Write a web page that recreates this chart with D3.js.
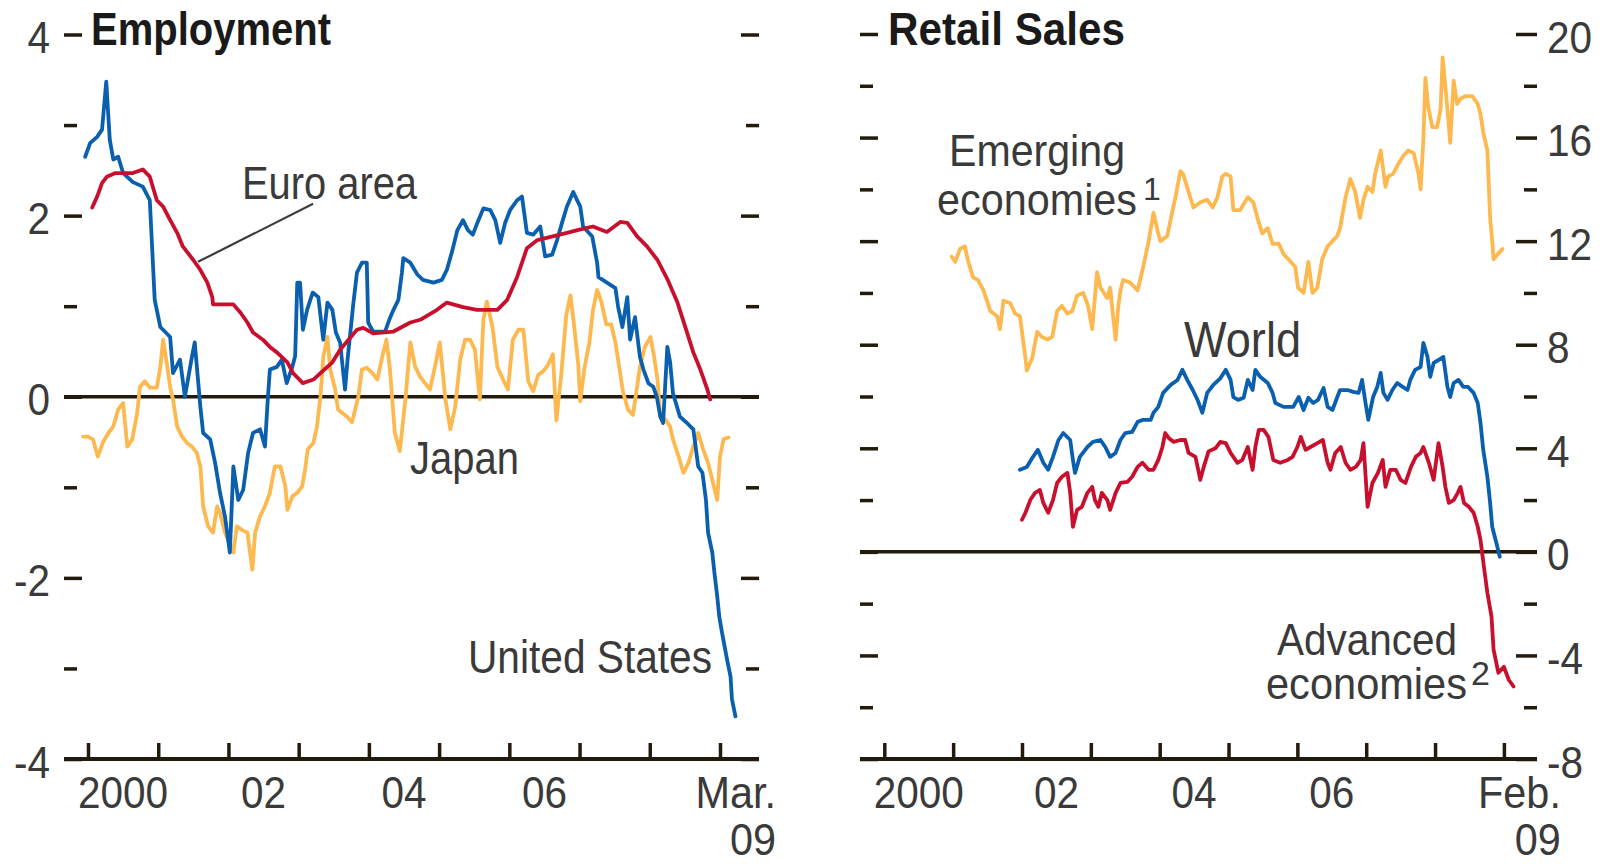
<!DOCTYPE html>
<html><head><meta charset="utf-8">
<script src="https://cdn.jsdelivr.net/npm/d3@7"></script>
<style>
html,body{margin:0;padding:0;background:#fff;}
svg{display:block;}
text{font-family:"Liberation Sans", Arial, sans-serif;}
</style></head><body>
<svg id="chart" width="1608" height="864"></svg>
<script>
// ---------------- DATA (decimal year, value) ----------------
const usEmployment = [[1999.96,2.65],[2000.03,2.80],[2000.13,2.87],[2000.20,2.95],[2000.26,3.48],[2000.31,2.84],[2000.36,2.62],[2000.43,2.65],[2000.50,2.47],[2000.64,2.37],[2000.78,2.32],[2000.88,2.17],[2000.95,1.07],[2001.03,0.77],[2001.17,0.66],[2001.21,0.26],[2001.31,0.41],[2001.38,0.00],[2001.48,0.44],[2001.52,0.60],[2001.60,-0.11],[2001.64,-0.40],[2001.74,-0.47],[2001.81,-0.73],[2001.88,-1.06],[2001.95,-1.32],[2002.02,-1.72],[2002.07,-0.77],[2002.14,-1.14],[2002.21,-1.03],[2002.28,-0.62],[2002.35,-0.40],[2002.45,-0.36],[2002.52,-0.55],[2002.56,-0.03],[2002.59,0.30],[2002.69,0.33],[2002.76,0.41],[2002.83,0.15],[2002.91,0.33],[2002.95,0.45],[2002.98,1.26],[2003.02,1.26],[2003.06,0.74],[2003.12,0.96],[2003.20,1.15],[2003.28,1.10],[2003.35,0.63],[2003.41,1.04],[2003.48,0.96],[2003.53,0.71],[2003.59,0.60],[2003.66,0.08],[2003.70,0.44],[2003.78,1.04],[2003.83,1.37],[2003.90,1.48],[2003.97,1.48],[2003.99,0.82],[2004.06,0.72],[2004.23,0.72],[2004.29,0.85],[2004.35,0.96],[2004.42,1.07],[2004.47,1.37],[2004.49,1.53],[2004.59,1.48],[2004.69,1.35],[2004.77,1.29],[2004.92,1.26],[2005.04,1.29],[2005.11,1.40],[2005.19,1.62],[2005.26,1.84],[2005.34,1.95],[2005.41,1.84],[2005.48,1.79],[2005.56,1.95],[2005.63,2.08],[2005.73,2.06],[2005.80,1.95],[2005.87,1.70],[2005.94,1.92],[2006.01,2.06],[2006.11,2.17],[2006.18,2.21],[2006.25,1.81],[2006.34,1.79],[2006.44,1.88],[2006.51,1.55],[2006.61,1.57],[2006.68,1.73],[2006.75,1.92],[2006.82,2.10],[2006.91,2.26],[2007.01,2.10],[2007.05,1.88],[2007.18,1.77],[2007.25,1.48],[2007.27,1.32],[2007.39,1.26],[2007.51,1.20],[2007.55,0.99],[2007.61,0.77],[2007.68,1.10],[2007.72,0.63],[2007.79,0.88],[2007.86,0.44],[2007.91,0.30],[2007.98,0.15],[2008.05,0.11],[2008.10,0.00],[2008.15,-0.22],[2008.19,-0.29],[2008.25,0.55],[2008.29,0.38],[2008.33,0.04],[2008.43,-0.22],[2008.53,-0.29],[2008.62,-0.36],[2008.69,-0.77],[2008.75,-0.84],[2008.80,-1.14],[2008.83,-1.50],[2008.89,-1.72],[2008.92,-1.94],[2008.96,-2.20],[2008.99,-2.43],[2009.03,-2.61],[2009.10,-2.90],[2009.15,-3.09],[2009.17,-3.34],[2009.22,-3.53]];

const euroEmployment = [[2000.06,2.09],[2000.13,2.21],[2000.20,2.36],[2000.27,2.43],[2000.39,2.47],[2000.64,2.47],[2000.78,2.51],[2000.88,2.43],[2000.98,2.17],[2001.07,2.10],[2001.17,1.95],[2001.27,1.81],[2001.35,1.66],[2001.50,1.51],[2001.60,1.40],[2001.70,1.26],[2001.77,1.10],[2001.78,1.02],[2001.98,1.02],[2002.07,1.02],[2002.17,0.93],[2002.27,0.82],[2002.35,0.71],[2002.49,0.63],[2002.59,0.55],[2002.69,0.49],[2002.84,0.38],[2002.92,0.26],[2003.06,0.15],[2003.21,0.19],[2003.31,0.26],[2003.48,0.38],[2003.59,0.52],[2003.83,0.74],[2003.92,0.76],[2004.06,0.70],[2004.35,0.72],[2004.59,0.82],[2004.73,0.85],[2004.97,0.96],[2005.11,1.04],[2005.34,0.99],[2005.54,0.96],[2005.83,0.96],[2005.97,1.07],[2006.11,1.32],[2006.25,1.64],[2006.40,1.73],[2006.82,1.81],[2006.97,1.84],[2007.19,1.88],[2007.39,1.82],[2007.58,1.93],[2007.68,1.92],[2007.82,1.77],[2007.96,1.66],[2008.11,1.51],[2008.25,1.30],[2008.39,1.05],[2008.53,0.71],[2008.62,0.49],[2008.72,0.30],[2008.82,0.08],[2008.86,-0.03]];

const japanEmployment = [[1999.93,-0.44],[2000.00,-0.44],[2000.07,-0.47],[2000.14,-0.66],[2000.21,-0.51],[2000.29,-0.40],[2000.36,-0.33],[2000.43,-0.14],[2000.50,-0.07],[2000.56,-0.55],[2000.63,-0.47],[2000.70,-0.18],[2000.74,0.11],[2000.81,0.17],[2000.88,0.10],[2000.98,0.10],[2001.03,0.33],[2001.07,0.63],[2001.13,0.33],[2001.17,0.11],[2001.21,-0.03],[2001.27,-0.33],[2001.34,-0.44],[2001.41,-0.51],[2001.48,-0.55],[2001.55,-0.62],[2001.60,-0.77],[2001.64,-1.21],[2001.71,-1.43],[2001.78,-1.50],[2001.84,-1.21],[2001.88,-1.28],[2001.95,-1.50],[2002.07,-1.72],[2002.12,-1.43],[2002.19,-1.47],[2002.27,-1.50],[2002.34,-1.91],[2002.38,-1.50],[2002.45,-1.32],[2002.52,-1.21],[2002.59,-1.06],[2002.66,-0.77],[2002.74,-0.77],[2002.81,-0.99],[2002.84,-1.25],[2002.91,-1.10],[2002.98,-1.06],[2003.05,-0.99],[2003.09,-0.81],[2003.13,-0.58],[2003.21,-0.51],[2003.26,-0.33],[2003.31,0.00],[2003.35,0.44],[2003.41,0.66],[2003.45,0.30],[2003.52,0.08],[2003.56,-0.14],[2003.69,-0.22],[2003.76,-0.28],[2003.85,0.00],[2003.90,0.30],[2003.97,0.32],[2004.05,0.26],[2004.12,0.19],[2004.19,0.44],[2004.25,0.63],[2004.30,0.30],[2004.37,-0.40],[2004.44,-0.60],[2004.52,-0.03],[2004.59,0.60],[2004.66,0.33],[2004.73,0.22],[2004.80,0.15],[2004.87,0.08],[2004.94,0.33],[2005.01,0.60],[2005.09,-0.03],[2005.16,-0.36],[2005.23,-0.11],[2005.30,0.41],[2005.37,0.63],[2005.44,0.63],[2005.51,0.52],[2005.58,-0.03],[2005.63,0.85],[2005.68,1.05],[2005.76,0.77],[2005.83,0.33],[2005.91,0.19],[2005.98,0.08],[2006.05,0.63],[2006.13,0.74],[2006.20,0.74],[2006.27,0.17],[2006.34,0.06],[2006.41,0.24],[2006.48,0.28],[2006.55,0.35],[2006.62,0.47],[2006.67,-0.26],[2006.74,0.25],[2006.81,0.90],[2006.87,1.12],[2006.92,0.80],[2006.98,0.37],[2007.01,-0.05],[2007.07,0.32],[2007.14,0.60],[2007.19,0.95],[2007.25,1.18],[2007.31,1.05],[2007.38,0.80],[2007.45,0.80],[2007.51,0.60],[2007.56,0.35],[2007.62,0.05],[2007.69,-0.14],[2007.76,-0.20],[2007.81,0.06],[2007.86,0.33],[2007.93,0.55],[2008.01,0.66],[2008.06,0.45],[2008.11,0.19],[2008.15,-0.22],[2008.22,-0.25],[2008.29,-0.33],[2008.33,-0.47],[2008.41,-0.66],[2008.48,-0.84],[2008.55,-0.73],[2008.62,-0.55],[2008.69,-0.40],[2008.76,-0.58],[2008.83,-0.73],[2008.90,-0.95],[2008.96,-1.14],[2009.00,-0.66],[2009.05,-0.47],[2009.12,-0.45]];

const emergingRetail = [[2000.98,11.4],[2001.03,11.2],[2001.10,11.7],[2001.17,11.8],[2001.22,11.2],[2001.29,10.6],[2001.36,10.5],[2001.44,10.1],[2001.49,9.7],[2001.54,9.3],[2001.64,9.1],[2001.68,8.6],[2001.73,9.7],[2001.83,9.6],[2001.90,9.2],[2001.97,9.1],[2002.05,7.5],[2002.07,7.0],[2002.15,7.5],[2002.22,8.5],[2002.29,8.3],[2002.37,8.2],[2002.44,8.3],[2002.51,9.3],[2002.58,9.5],[2002.66,9.2],[2002.73,9.3],[2002.80,9.9],[2002.89,10.0],[2002.96,9.5],[2003.02,8.6],[2003.09,10.8],[2003.14,10.2],[2003.24,9.8],[2003.28,10.2],[2003.36,8.2],[2003.40,9.5],[2003.43,10.1],[2003.47,10.5],[2003.57,10.4],[2003.68,10.1],[2003.76,11.0],[2003.84,12.0],[2003.91,13.1],[2003.97,12.4],[2004.01,12.0],[2004.11,12.2],[2004.18,13.1],[2004.23,13.7],[2004.30,14.7],[2004.34,14.6],[2004.42,13.9],[2004.49,13.3],[2004.59,13.5],[2004.69,13.6],[2004.77,13.3],[2004.84,13.7],[2004.91,14.5],[2004.96,14.6],[2005.03,14.5],[2005.07,13.2],[2005.17,13.2],[2005.28,13.7],[2005.36,13.5],[2005.42,12.9],[2005.49,12.3],[2005.57,12.5],[2005.64,11.9],[2005.73,11.9],[2005.80,11.5],[2005.87,11.3],[2005.97,11.0],[2006.01,10.2],[2006.09,10.0],[2006.16,11.2],[2006.22,10.0],[2006.29,10.2],[2006.36,11.3],[2006.44,11.8],[2006.51,12.0],[2006.58,12.2],[2006.62,12.5],[2006.70,13.7],[2006.77,14.4],[2006.84,13.9],[2006.91,12.9],[2006.96,13.6],[2007.02,14.1],[2007.09,13.9],[2007.13,14.6],[2007.21,15.5],[2007.28,14.1],[2007.32,14.5],[2007.39,14.6],[2007.47,15.0],[2007.54,15.3],[2007.61,15.5],[2007.69,15.4],[2007.76,14.6],[2007.79,14.0],[2007.83,15.9],[2007.86,18.3],[2007.90,17.2],[2007.96,16.4],[2008.03,16.4],[2008.08,17.1],[2008.11,19.1],[2008.18,17.1],[2008.22,15.8],[2008.27,18.2],[2008.32,17.3],[2008.37,17.5],[2008.44,17.6],[2008.54,17.6],[2008.62,17.3],[2008.66,16.9],[2008.70,16.2],[2008.76,15.5],[2008.78,14.2],[2008.80,12.9],[2008.83,12.0],[2008.85,11.3],[2008.91,11.5],[2008.98,11.7]];

const worldRetail = [[2001.97,3.17],[2002.07,3.28],[2002.16,3.67],[2002.23,3.94],[2002.31,3.44],[2002.38,3.17],[2002.45,3.67],[2002.53,4.32],[2002.60,4.59],[2002.70,4.32],[2002.74,3.55],[2002.77,3.05],[2002.84,3.67],[2002.95,4.05],[2003.03,4.25],[2003.14,4.32],[2003.21,4.05],[2003.28,3.67],[2003.36,3.82],[2003.43,4.32],[2003.50,4.59],[2003.60,4.63],[2003.68,5.02],[2003.76,5.10],[2003.87,5.10],[2003.91,5.37],[2003.98,5.60],[2004.05,6.14],[2004.16,6.45],[2004.26,6.64],[2004.33,7.03],[2004.40,6.64],[2004.48,6.25],[2004.55,5.87],[2004.62,5.37],[2004.69,6.14],[2004.78,6.45],[2004.88,6.70],[2004.96,7.03],[2005.03,6.64],[2005.07,5.98],[2005.14,5.87],[2005.22,5.95],[2005.28,6.64],[2005.35,6.25],[2005.39,7.03],[2005.46,6.76],[2005.57,6.52],[2005.64,6.14],[2005.68,5.75],[2005.80,5.60],[2005.94,5.60],[2006.02,5.98],[2006.09,5.48],[2006.16,5.95],[2006.23,5.75],[2006.30,5.87],[2006.38,6.33],[2006.44,5.60],[2006.51,5.48],[2006.58,5.98],[2006.62,6.25],[2006.73,6.25],[2006.81,6.18],[2006.89,6.14],[2006.94,6.64],[2006.99,5.75],[2007.03,5.10],[2007.10,5.98],[2007.16,6.37],[2007.21,6.91],[2007.25,6.14],[2007.31,5.87],[2007.38,6.25],[2007.45,6.52],[2007.53,6.37],[2007.60,6.25],[2007.64,6.64],[2007.71,7.03],[2007.79,7.14],[2007.83,8.07],[2007.89,7.53],[2007.93,6.76],[2007.98,7.30],[2008.05,7.41],[2008.12,7.53],[2008.18,6.37],[2008.22,5.98],[2008.27,6.52],[2008.34,6.64],[2008.41,6.37],[2008.48,6.37],[2008.56,6.14],[2008.62,5.75],[2008.66,4.98],[2008.70,3.94],[2008.76,2.90],[2008.80,1.89],[2008.83,0.97],[2008.89,0.35],[2008.94,-0.19]];

const advancedRetail = [[2002.00,1.24],[2002.05,1.51],[2002.12,2.00],[2002.19,2.28],[2002.26,2.39],[2002.31,1.89],[2002.38,1.51],[2002.45,2.00],[2002.51,2.66],[2002.58,2.90],[2002.66,3.05],[2002.70,2.28],[2002.74,0.97],[2002.80,1.62],[2002.87,1.74],[2002.95,2.28],[2003.02,2.51],[2003.06,2.00],[2003.11,1.74],[2003.16,2.28],[2003.24,2.00],[2003.28,1.62],[2003.36,2.28],[2003.43,2.66],[2003.53,2.70],[2003.60,2.90],[2003.68,3.28],[2003.75,3.44],[2003.84,3.17],[2003.91,3.17],[2003.98,3.55],[2004.04,4.05],[2004.08,4.59],[2004.13,4.40],[2004.20,4.25],[2004.30,4.32],[2004.37,4.32],[2004.42,3.82],[2004.52,3.67],[2004.59,2.78],[2004.64,3.28],[2004.71,3.88],[2004.81,4.00],[2004.88,4.25],[2004.96,4.20],[2005.03,3.82],[2005.13,3.44],[2005.20,3.55],[2005.28,4.05],[2005.35,3.17],[2005.39,4.05],[2005.44,4.71],[2005.51,4.71],[2005.58,4.44],[2005.65,3.55],[2005.75,3.44],[2005.86,3.55],[2005.93,3.67],[2006.00,4.05],[2006.05,4.44],[2006.12,3.94],[2006.19,4.05],[2006.29,4.20],[2006.37,4.32],[2006.44,3.44],[2006.48,3.17],[2006.55,3.82],[2006.63,4.05],[2006.70,3.44],[2006.77,3.17],[2006.85,3.28],[2006.92,3.55],[2006.96,4.20],[2007.02,1.74],[2007.09,2.66],[2007.17,3.05],[2007.24,3.55],[2007.28,2.51],[2007.35,3.17],[2007.43,3.17],[2007.50,2.78],[2007.57,2.66],[2007.65,3.28],[2007.72,3.67],[2007.79,3.82],[2007.83,4.05],[2007.91,3.44],[2007.98,2.78],[2008.05,4.20],[2008.11,3.28],[2008.15,2.51],[2008.20,1.89],[2008.27,2.00],[2008.33,2.28],[2008.37,2.51],[2008.42,1.89],[2008.49,1.74],[2008.56,1.51],[2008.62,0.97],[2008.66,0.46],[2008.71,-0.58],[2008.76,-1.58],[2008.82,-2.50],[2008.85,-3.78],[2008.92,-4.67],[2009.00,-4.44],[2009.07,-4.94],[2009.14,-5.20]];

// tick values and labels
const tickYears = [2000,2001,2002,2003,2004,2005,2006,2007,2008,2009];
const yearLabelYears = [2000,2002,2004,2006];
const yearLabels = ["2000","02","04","06"];
const endLabelLeft = ["Mar.","09"];
const endLabelRight = ["Feb.","09"];
const empMajor = [-4,-2,0,2,4];
const empMinor = [-3,-1,1,3];
const retMajor = [-8,-4,0,4,8,12,16,20];
const retMinor = [-6,-2,2,6,10,14,18];

// ---------------- DRAWING ----------------
const svg = d3.select("#chart");
svg.append("rect").attr("width",1608).attr("height",864).attr("fill","#fff");
const ink = "#221a0b";
const labelInk = "#3a3a3a";
const BLUE = "#0a60ae", RED = "#c8102e", ORANGE = "#fdb94f";

function squeeze(sel, f){
  sel.each(function(){
    const w = this.getComputedTextLength();
    if (w > 0) d3.select(this).attr("textLength", w*f).attr("lengthAdjust","spacingAndGlyphs");
  });
}

function panel(cfg){
  const g = svg.append("g");
  const x = d3.scaleLinear().domain([2000,2009]).range(cfg.xRange);
  const y = d3.scaleLinear().domain(cfg.yDomain).range(cfg.yRange);
  const fmt = v => String(v);

  function styleAxis(a){
    a.select(".domain").remove();
    a.selectAll(".tick line").attr("stroke",ink).attr("stroke-width",3.5);
    a.selectAll(".tick text").attr("fill",labelInk).attr("font-size",45).attr("dy","0.4em");
  }
  const aL = g.append("g").attr("transform",`translate(${cfg.L},0)`)
    .call(d3.axisLeft(y).tickValues(cfg.major).tickSizeInner(-18).tickSizeOuter(0).tickPadding(14)
      .tickFormat(cfg.labelsLeft ? fmt : ""));
  styleAxis(aL);
  const aLm = g.append("g").attr("transform",`translate(${cfg.L},0)`)
    .call(d3.axisLeft(y).tickValues(cfg.minor).tickSizeInner(-13).tickSizeOuter(0).tickFormat(""));
  styleAxis(aLm);
  const aR = g.append("g").attr("transform",`translate(${cfg.R},0)`)
    .call(d3.axisRight(y).tickValues(cfg.major).tickSizeInner(-cfg.rMajor).tickSizeOuter(0).tickPadding(10)
      .tickFormat(cfg.labelsLeft ? "" : fmt));
  styleAxis(aR);
  const aRm = g.append("g").attr("transform",`translate(${cfg.R},0)`)
    .call(d3.axisRight(y).tickValues(cfg.minor).tickSizeInner(-13).tickSizeOuter(0).tickFormat(""));
  styleAxis(aRm);
  squeeze(g.selectAll(".tick text"), 0.9);

  const yb = y(cfg.yDomain[0]);
  const aX = g.append("g").attr("transform",`translate(0,${yb})`)
    .call(d3.axisBottom(x).tickValues(tickYears).tickSizeInner(-16).tickSizeOuter(0).tickFormat(""));
  aX.select(".domain").remove();
  aX.selectAll(".tick line").attr("stroke",ink).attr("stroke-width",3.5);

  g.append("line").attr("x1",cfg.L).attr("x2",cfg.R).attr("y1",yb).attr("y2",yb)
    .attr("stroke",ink).attr("stroke-width",4);
  g.append("line").attr("x1",cfg.L).attr("x2",cfg.R).attr("y1",y(0)).attr("y2",y(0))
    .attr("stroke",ink).attr("stroke-width",3.5);

  const yl = g.selectAll("text.year").data(yearLabels).join("text").attr("class","year")
    .attr("x",(d,i)=>x(yearLabelYears[i]+0.5)).attr("y",808)
    .attr("text-anchor","middle").attr("font-size",45).attr("fill",labelInk).text(d=>d);
  squeeze(yl,0.9);
  const et = g.append("text").attr("text-anchor","end").attr("font-size",45).attr("fill",labelInk);
  const ets = et.selectAll("tspan").data(cfg.endLabel).join("tspan")
    .attr("x",x(2009)+cfg.endOffset).attr("y",(d,i)=>808+i*47).text(d=>d);
  squeeze(ets,0.92);

  const line = d3.line().x(d=>x(d[0])).y(d=>y(d[1]));
  cfg.series.forEach(s=>{
    g.append("path").datum(s.data).attr("d",line).attr("fill","none")
      .attr("stroke",s.color).attr("stroke-width",3.8)
      .attr("stroke-linejoin","round").attr("stroke-linecap","round");
  });
  return {g,x,y};
}

const left = panel({
  xRange:[88,720], yDomain:[-4,4], yRange:[759,34.5], L:64, R:759, rMajor:18,
  major:empMajor, minor:empMinor, labelsLeft:true, endLabel:endLabelLeft, endOffset:56,
  series:[{data:japanEmployment,color:ORANGE},{data:usEmployment,color:BLUE},{data:euroEmployment,color:RED}]
});
const right = panel({
  xRange:[884.3,1503.9], yDomain:[-8,20], yRange:[759,34], L:860, R:1537, rMajor:21,
  major:retMajor, minor:retMinor, labelsLeft:false, endLabel:endLabelRight, endOffset:57,
  series:[{data:emergingRetail,color:ORANGE},{data:worldRetail,color:BLUE},{data:advancedRetail,color:RED}]
});

left.g.append("line")
  .attr("x1",left.x(2001.567)).attr("y1",left.y(1.49))
  .attr("x2",left.x(2003.205)).attr("y2",left.y(2.13))
  .attr("stroke","#3c3c3c").attr("stroke-width",2.2);

const notes = [
  {bold:true, parts:[{t:"Employment", x:91, y:45, w:240, size:46}]},
  {bold:true, parts:[{t:"Retail Sales", x:888, y:45, w:237, size:46}]},
  {parts:[{t:"Euro area", x:242, y:199, w:175, size:46}]},
  {parts:[{t:"Japan", x:410, y:474, w:109, size:46}]},
  {parts:[{t:"United States", x:468, y:673, w:244, size:46}]},
  {parts:[{t:"Emerging", x:949, y:166, w:176, size:45},{t:"economies", x:937, y:215, w:200, size:45},{t:"1", x:1143, y:200, size:32}]},
  {parts:[{t:"World", x:1184, y:357, w:117, size:50}]},
  {parts:[{t:"Advanced", x:1277, y:655, w:180, size:45},{t:"economies", x:1266, y:699, w:201, size:45},{t:"2", x:1471, y:685, size:34}]}
];
const nt = svg.selectAll("text.note").data(notes).join("text").attr("class","note")
  .attr("font-weight",d=>d.bold?"bold":"normal")
  .attr("fill",d=>d.bold?"#1a1a1a":labelInk);
nt.selectAll("tspan").data(d=>d.parts).join("tspan")
  .attr("x",p=>p.x).attr("y",p=>p.y).attr("font-size",p=>p.size)
  .attr("textLength",p=>p.w||null).attr("lengthAdjust",p=>p.w?"spacingAndGlyphs":null)
  .text(p=>p.t);
</script>
</body></html>
